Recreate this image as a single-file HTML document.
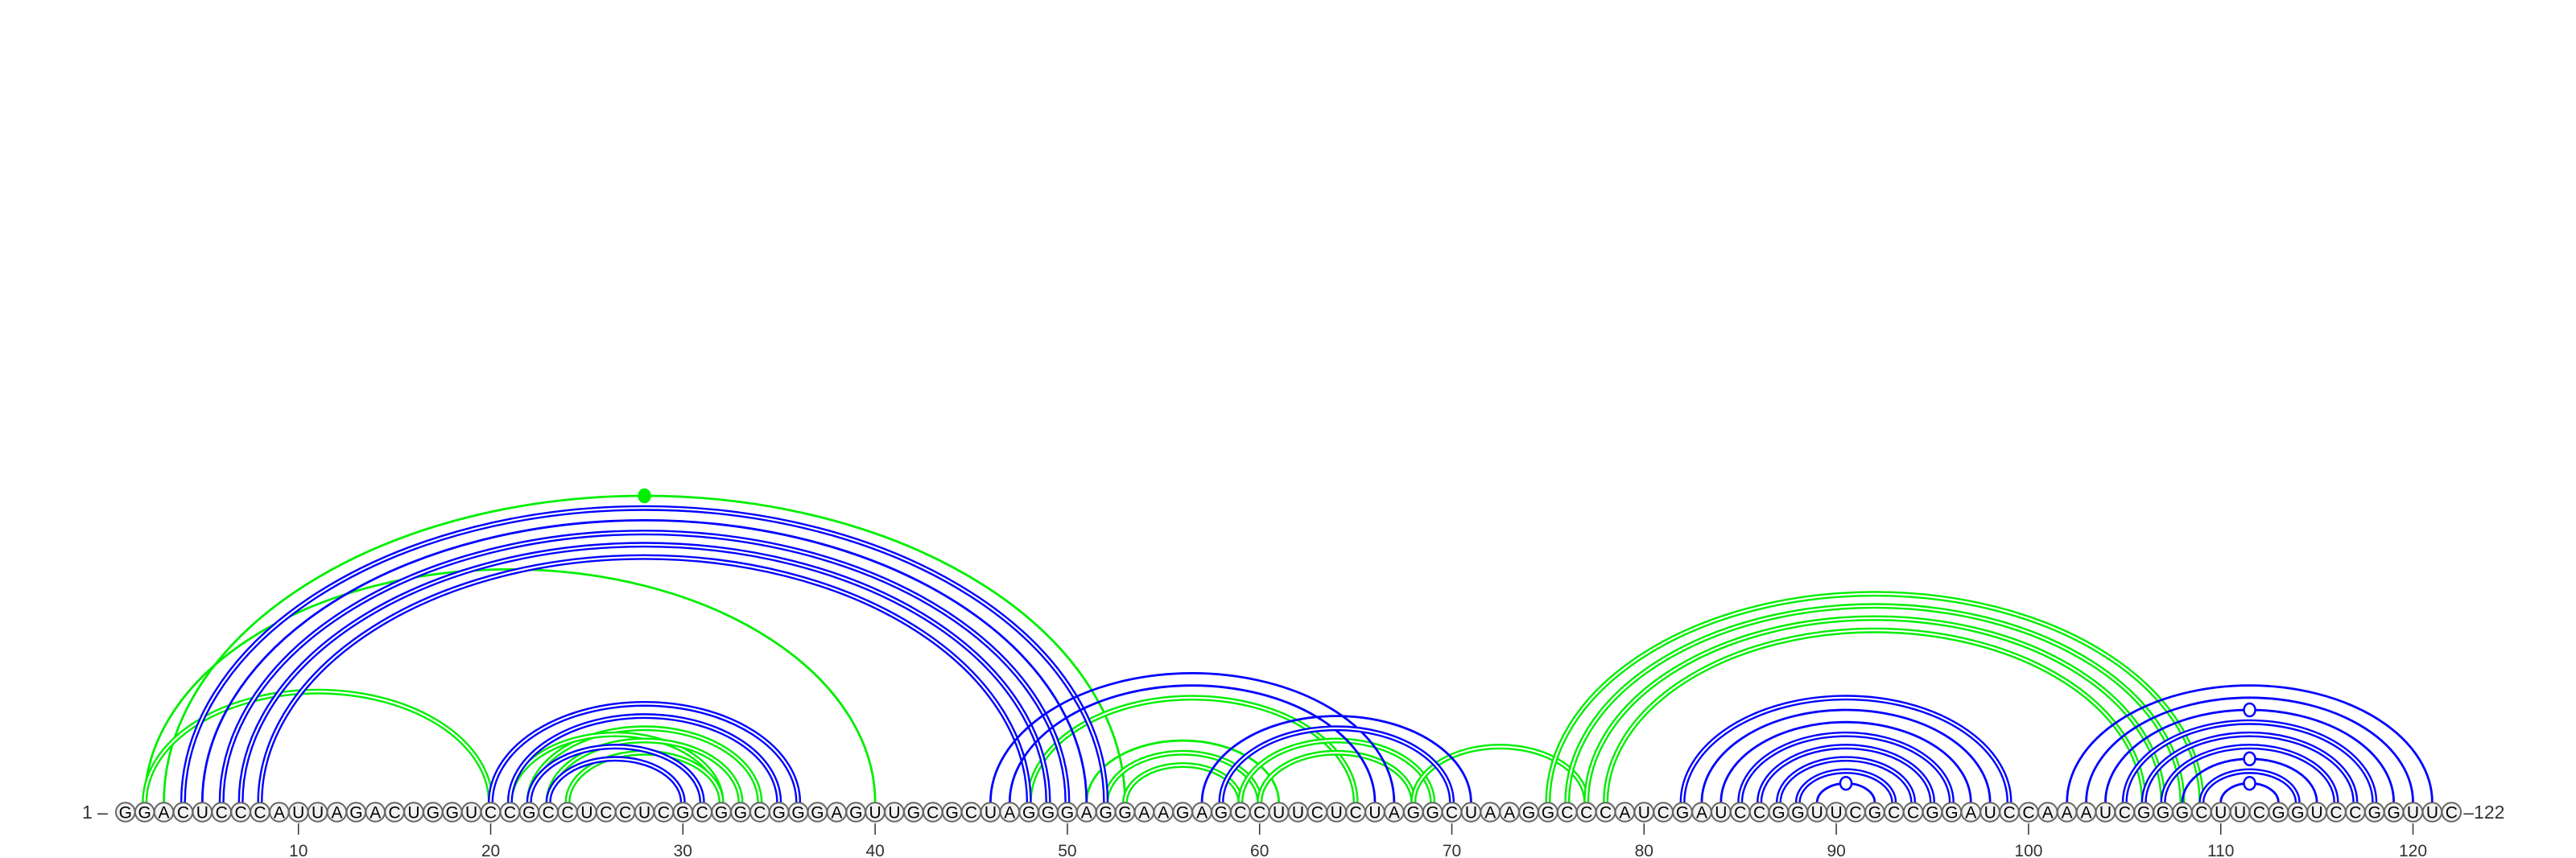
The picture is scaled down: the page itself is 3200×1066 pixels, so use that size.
<!DOCTYPE html>
<html><head><meta charset="utf-8"><style>
html,body{margin:0;padding:0;background:#fff;width:3200px;height:1066px;overflow:hidden}
svg{display:block}
</style></head><body>
<svg id="chart" width="3200" height="1066" viewBox="0 0 3200 1066" xmlns="http://www.w3.org/2000/svg">
<g id="arcs"></g>
<g id="nts"></g>
<g id="axis"></g>
</svg>
<script>
const sequence = "GGACUCCCAUUAGACUGGUCCGCCUCCUCGCGGCGGGAGUUGCGCUAGGGAGGAAGAGCCUUCUCUAGGCUAAGGCCCAUCGAUCCGGUUCGCCGGAUCCAAAUCGGGCUUCGGUCCGGUUC";
const bluePairs = [[4,52],[5,51],[6,50],[7,49],[8,48],[20,36],[21,35],[22,31],[23,30],[46,67],[47,66],[57,71],[58,70],
  [82,99],[83,98],[84,97],[85,96],[86,95],[87,94],[88,93],[89,92],
  [102,121],[103,120],[104,119],[105,118],[106,117],[107,116],[108,115],[109,114],[110,113]];
const blueDouble = [1,0,1,1,1,1,1,1,1,0,0,0,1, 1,0,0,1,1,1,1,0, 0,0,0,1,1,1,0,1,0];
const greenPairs = [[3,53],[2,40],[2,20],[22,34],[21,32],[23,33],[24,32],[48,65],[51,61],[52,60],[53,59],[59,69],[60,68],[68,77],
  [75,109],[76,108],[77,107],[78,106]];
const greenDouble = [0,0,1,1,1,1,1,1,0,1,1,1,1,1,1,1,1,1];
const dotPairs = [[3,53,"green"],[89,92,"blue"],[110,113,"blue"],[108,115,"blue"],[104,119,"blue"]];
const tickLabels = [10,20,30,40,50,60,70,80,90,100,110,120];

const NS="http://www.w3.org/2000/svg";
const X0=155.8, DX=23.88, BASE=997, CY=1009;
function xPos(i){return X0+(i-1)*DX;}
function arcH(a,b){return 7.6*(b-a)+1;}
function mk(tag,attrs,parent){const e=document.createElementNS(NS,tag);for(const k in attrs)e.setAttribute(k,attrs[k]);parent.appendChild(e);return e;}
const arcs=document.getElementById('arcs');
function drawArc(p,dbl,color){
  const x1=xPos(p[0]),x2=xPos(p[1]),rx=(x2-x1)/2,h=arcH(p[0],p[1]);
  const d=`M ${x1} ${BASE} A ${rx} ${h} 0 0 1 ${x2} ${BASE}`;
  if(dbl){
    const a=mk('path',{d:d,fill:'none',stroke:color,'stroke-width':7},arcs);
    
    
    const w=mk('path',{d:d,fill:'none',stroke:'#fff','stroke-width':2.2},arcs);
    
    
  } else {
    const a=mk('path',{d:d,fill:'none',stroke:color,'stroke-width':2.8},arcs);
    
    
  }
}
greenPairs.forEach((p,k)=>drawArc(p,greenDouble[k],'#00ee00'));
bluePairs.forEach((p,k)=>drawArc(p,blueDouble[k],'#0000ff'));
dotPairs.forEach(p=>{
  const cx=(xPos(p[0])+xPos(p[1]))/2, cy=BASE-arcH(p[0],p[1]);
  const e=mk('ellipse',{cx:cx,cy:cy,rx:7,ry:8,fill:p[2]==='green'?'#00ee00':'#fff',stroke:p[2]==='green'?'#00ee00':'#0000ff','stroke-width':2.5},arcs);
  
  
});
const nts=document.getElementById('nts');
for(let i=1;i<=sequence.length;i++){
  const x=xPos(i);
  const c=mk('circle',{cx:x,cy:CY,r:11.8,fill:'#f2f2f2',stroke:'#666','stroke-width':2},nts);
  
  
  const t=mk('text',{x:x,y:CY+7.5,'font-family':'Liberation Sans, sans-serif','font-size':21,'text-anchor':'middle',fill:'#000'},nts);
  t.textContent=sequence[i-1];
  
  
}
const axis=document.getElementById('axis');
const s=mk('text',{x:102,y:CY+8,'font-family':'Liberation Sans, sans-serif','font-size':23,fill:'#333'},axis);
s.textContent='1 –';


const e=mk('text',{x:xPos(122)+15,y:CY+8,'font-family':'Liberation Sans, sans-serif','font-size':23,fill:'#333'},axis);
e.textContent='–122';


tickLabels.forEach(v=>{
  const x=xPos(v);
  const l=mk('line',{x1:x,x2:x,y1:1023,y2:1037,stroke:'#333','stroke-width':1.5},axis);
  
  
  const t=mk('text',{x:x,y:1064,'font-family':'Liberation Sans, sans-serif','font-size':21,'text-anchor':'middle',fill:'#333'},axis);
  t.textContent=v;
  
  
});
</script>
</body></html>
